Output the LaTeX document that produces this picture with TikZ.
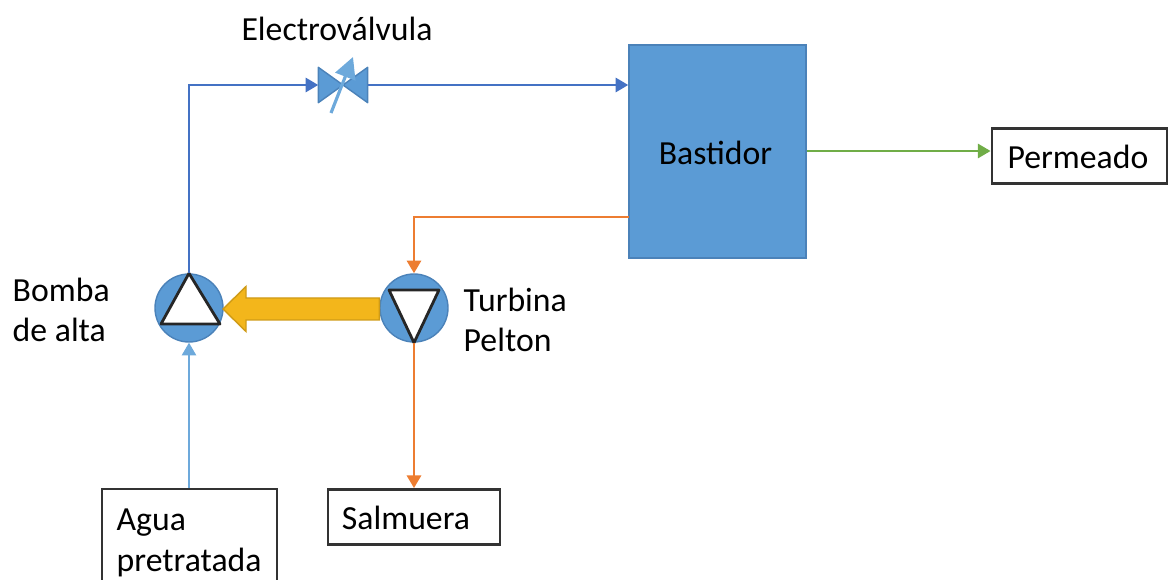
\documentclass[tikz,border=0pt]{standalone}
\usepackage{fontspec}
\setmainfont{Carlito}
\usetikzlibrary{arrows.meta}
\definecolor{equipo}{RGB}{91,155,213}
\definecolor{borde}{RGB}{75,130,185}
\definecolor{alta}{RGB}{68,114,196}
\definecolor{baja}{RGB}{109,169,219}
\definecolor{salmuera}{RGB}{237,125,49}
\definecolor{permeado}{RGB}{112,173,71}
\definecolor{potencia}{RGB}{243,182,27}
\tikzset{
  caja/.style={draw=black!80, thick, fill=white, minimum height=0.55cm, inner sep=0pt},
  rotulo/.style={font=\fontsize{9.6pt}{11.6pt}\selectfont, inner sep=0pt, align=left},
  maquina/.style={circle, draw=borde, fill=equipo, minimum size=0.68cm, inner sep=0pt},
  linea/.style={line width=0.8pt, -{Triangle[length=3.6pt,width=4pt]}}
}
\begin{document}
\begin{tikzpicture}
  \useasboundingbox (0,0) rectangle (11.68,5.80);

  % Equipos
  \node[draw=borde, fill=equipo, minimum width=1.77cm, minimum height=2.13cm, inner sep=0pt] (bastidor) at (7.175,4.285) {};
  \node[rotulo] (bastidortxt) at (7.155,4.27) {Bastidor};
  \node[maquina] (bomba) at (1.89,2.72) {};
  \node[maquina] (turbina) at (4.14,2.72) {};
  \node[minimum width=0.48cm, minimum height=0.34cm, inner sep=0pt] (valvula) at (3.43,4.95) {};

  % Triangulos de bomba y turbina
  \draw[black!85, line width=0.8pt, fill=white, line join=round] (bomba.north) -- (1.61,2.56) -- (2.20,2.56) -- cycle;
  \draw[black!85, line width=0.8pt, fill=white, line join=round] (turbina.south) -- (3.89,2.90) -- (4.39,2.90) -- cycle;

  % Electrovalvula
  \draw[borde, fill=equipo, line join=round] (valvula.north west) -- (valvula.south west) -- (valvula.north east) -- (valvula.south east) -- cycle;
  \coordinate (vini) at (3.31,4.67);
  \coordinate (vfin) at (3.53,5.23);
  \draw[baja, line width=0.9pt, -{Triangle[length=6pt,width=6pt]}] (vini) -- (vfin);

  % Cajas
  \node[caja, minimum width=1.75cm] (permeadobox) at (10.795,4.24) {};
  \node[rotulo] (permeadotxt) at (10.78,4.23) {Permeado};
  \node[caja, minimum width=1.72cm] (salmuerabox) at (4.14,0.63) {};
  \node[rotulo] (salmueratxt) at (4.06,0.62) {Salmuera};
  \node[caja, minimum width=1.75cm, minimum height=0.92cm] (aguabox) at (1.895,0.45) {};
  \node[rotulo, anchor=north west] (aguatxt) at (1.16,0.72) {Agua\\pretratada};

  % Rotulos
  \node[rotulo] (valvulatxt) at (3.37,5.51) {Electroválvula};
  \node[rotulo, anchor=west] (bombatxt) at (0.12,2.70) {Bomba\\de alta};
  \node[rotulo, anchor=west] (turbinatxt) at (4.63,2.60) {Turbina\\Pelton};

  % Eje de potencia
  \draw[potencia!85!black, fill=potencia, line join=miter] (turbina.west |- 0,2.82) -- (2.46,2.82) -- (2.46,2.935) -- (2.23,2.71) -- (2.46,2.485) -- (2.46,2.60) -- (turbina.west |- 0,2.60) -- cycle;

  % Conexiones
  \draw[linea, alta] (bomba.north) |- (valvula.west);
  \draw[linea, alta] (valvula.east) -- (valvula.east -| bastidor.west);
  \draw[linea, permeado, line width=0.7pt] ([yshift=0.05cm]bastidor.east |- permeadobox.west) -- ([yshift=0.05cm]permeadobox.west);
  \coordinate (salida) at (6.29,3.63);
  \draw[linea, salmuera] (salida) -| (turbina.north);
  \draw[linea, salmuera] (turbina.south) -- (salmuerabox.north);
  \draw[linea, baja, line width=0.65pt] (aguabox.north -| bomba.south) -- (bomba.south);
\end{tikzpicture}
\end{document}
